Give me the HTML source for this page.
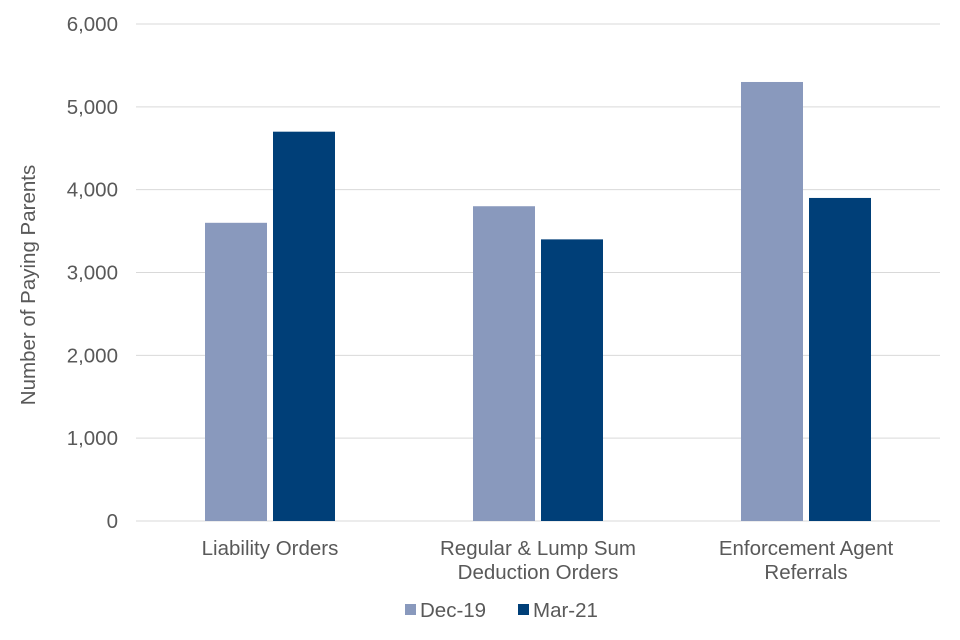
<!DOCTYPE html>
<html><head><meta charset="utf-8"><style>
body{margin:0;background:#fff;}
svg{display:block;font-family:"Liberation Sans",Arial,sans-serif;}
</style></head><body>
<svg id="chart" width="960" height="640"></svg>
<script>
const categories=[["Liability Orders"],["Regular & Lump Sum","Deduction Orders"],["Enforcement Agent","Referrals"]];
const seriesNames=["Dec-19","Mar-21"];
const dec19=[3600,3800,5300];
const mar21=[4700,3400,3900];
const yTicks=[0,1000,2000,3000,4000,5000,6000];
const colors=["#8999BD","#003F78"];
const svg=document.getElementById('chart');
const NS="http://www.w3.org/2000/svg";
const x0=136,x1=940,yTop=24,yBot=521,yMax=6000;
const FS=20.5;
const y=v=>yBot-(v/yMax)*(yBot-yTop);
const groupW=(x1-x0)/categories.length;
const cx=i=>x0+groupW*(i+0.5);
function mk(tag,attrs,parent){const e=document.createElementNS(NS,tag);for(const k in attrs)e.setAttribute(k,attrs[k]);(parent||svg).appendChild(e);return e;}
yTicks.forEach(t=>{
  const l=mk('line',{x1:x0,x2:x1,y1:y(t),y2:y(t),stroke:'#D9D9D9','stroke-width':1});
  
  
  const tx=mk('text',{x:118,y:y(t)+7,'text-anchor':'end','font-size':FS,fill:'#595959'});
  tx.textContent=t.toLocaleString('en-US');
  
  
});
const bw=62,gap=6;
[dec19,mar21].forEach((ser,s)=>{
  ser.forEach((v,i)=>{
    const bx=s===0?cx(i)-gap/2-bw:cx(i)+gap/2;
    const r=mk('rect',{x:bx,y:y(v),width:bw,height:yBot-y(v),fill:colors[s]});
    
    
  });
});
categories.forEach((lines,i)=>{
  lines.forEach((ln,j)=>{
    const t=mk('text',{x:cx(i),y:555+j*24,'text-anchor':'middle','font-size':FS,fill:'#595959'});
    t.textContent=ln;
    
    
  });
});
const at=mk('text',{x:35,y:285,'text-anchor':'middle','font-size':FS,fill:'#595959',transform:'rotate(-90 35 285)'});
at.textContent='Number  of Paying Parents';


const legX=[405,518];
seriesNames.forEach((n,s)=>{
  const sq=mk('rect',{x:legX[s],y:604,width:11,height:11,fill:colors[s]});
  
  
  const t=mk('text',{x:legX[s]+15,y:617,'font-size':FS,fill:'#595959'});
  t.textContent=n;
  
  
});
</script>
</body></html>
